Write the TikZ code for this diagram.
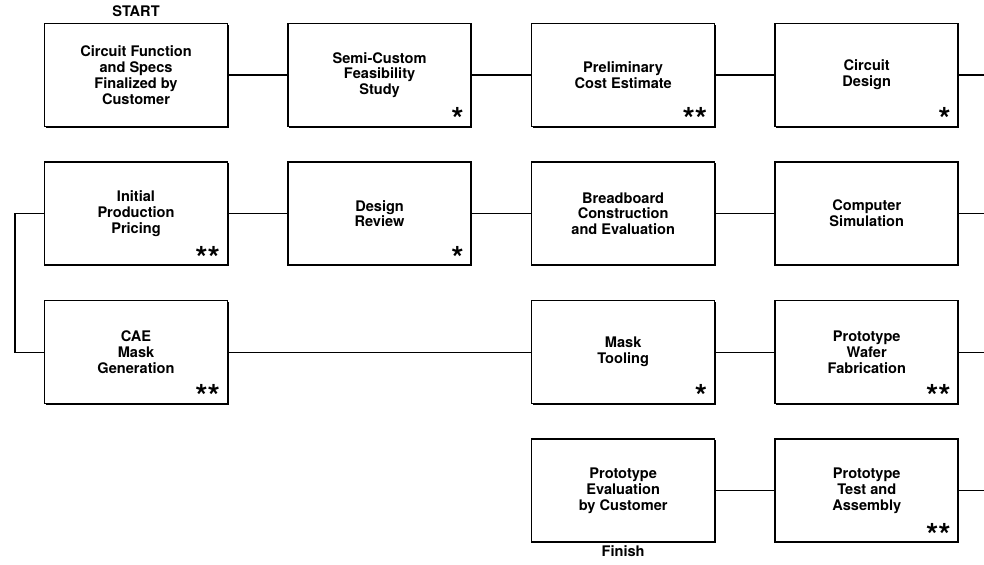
\documentclass[tikz,border=0pt]{standalone}
\usepackage{fontspec}
\setmainfont{TeX Gyre Heros}
\usetikzlibrary{positioning,shadows}
\tikzset{
  stage/.style={rectangle,draw,fill=white,line width=0.9pt,minimum width=36.6mm,minimum height=20.6mm,
    align=center,font=\bfseries\fontsize{8.3}{9}\selectfont,
    drop shadow={shadow xshift=0.6pt,shadow yshift=-0.6pt,fill=black,opacity=1}},
  prio/.style={anchor=south east,inner sep=0pt,xshift=-4.5pt,yshift=-2.2pt,font=\bfseries\fontsize{18}{18}\selectfont},
  every label/.style={font=\bfseries\fontsize{8.3}{9}\selectfont},
  every edge/.style={draw,line width=0.7pt}
}
\begin{document}
\begin{tikzpicture}[node distance=6.8mm and 11.8mm]
  \useasboundingbox (0,0) rectangle (19.68,-11.3);
  % first row
  \node[stage,label=above:START] (spec) at (2.72,-1.5) {Circuit Function\\and Specs\\Finalized by\\Customer};
  \node[stage,right=of spec,label={[prio]south east:*}] (feas) {Semi-Custom\\Feasibility\\Study};
  \node[stage,right=of feas,label={[prio]south east:**}] (cost) {Preliminary\\Cost Estimate};
  \node[stage,right=of cost,label={[prio]south east:*}] (design) {Circuit\\Design};
  % second row
  \node[stage,below=of spec,label={[prio]south east:**}] (pricing) {Initial\\Production\\Pricing};
  \node[stage,right=of pricing,label={[prio]south east:*}] (review) {Design\\Review};
  \node[stage,right=of review] (bread) {Breadboard\\Construction\\and Evaluation};
  \node[stage,right=of bread] (sim) {Computer\\Simulation};
  % third row
  \node[stage,below=of pricing,label={[prio]south east:**}] (cae) {CAE\\Mask\\Generation};
  \node[stage,below=of bread,label={[prio]south east:*}] (mask) {Mask\\Tooling};
  \node[stage,right=of mask,label={[prio]south east:**}] (wafer) {Prototype\\Wafer\\Fabrication};
  % last row
  \node[stage,below=of mask,label={[inner sep=1.5pt]below:Finish}] (evalc) {Prototype\\Evaluation\\by Customer};
  \node[stage,right=of evalc,label={[prio]south east:**}] (test) {Prototype\\Test and\\Assembly};

  \coordinate (rim) at (19.68,0);
  \coordinate (back) at (0.3,0);

  \path
    (spec) edge (feas)
    (feas) edge (cost)
    (cost) edge (design)
    (design) edge (design -| rim)
    (pricing) edge (review)
    (review) edge (bread)
    (bread) edge (sim)
    (sim) edge (sim -| rim)
    (cae) edge (mask)
    (mask) edge (wafer)
    (wafer) edge (wafer -| rim)
    (evalc) edge (test)
    (test) edge (test -| rim);
  \draw[line width=0.7pt] (pricing.west) -- (pricing.west -| back) |- (cae.west);
\end{tikzpicture}
\end{document}
